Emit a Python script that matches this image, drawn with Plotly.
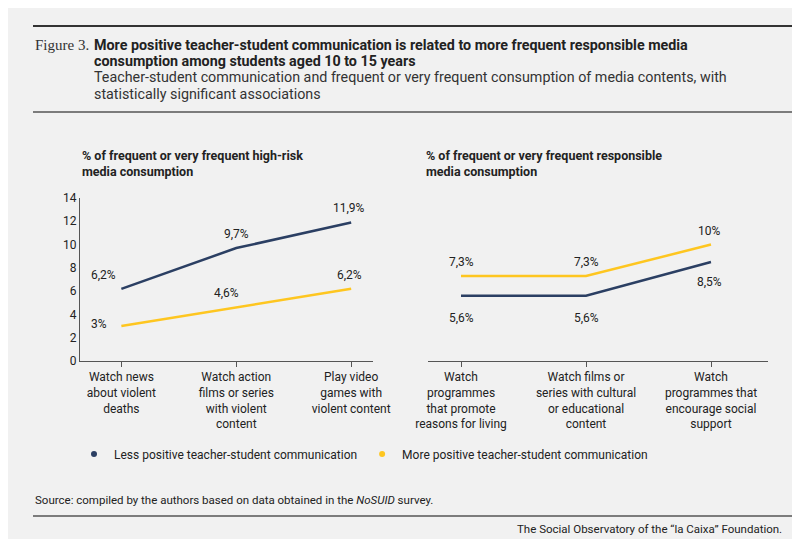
import plotly.graph_objects as go

cats_left = ["Watch news<br>about violent<br>deaths", "Watch action<br>films or series<br>with violent<br>content", "Play video<br>games with<br>violent content"]
cats_right = ["Watch<br>programmes<br>that promote<br>reasons for living", "Watch films or<br>series with cultural<br>or educational<br>content", "Watch<br>programmes that<br>encourage social<br>support"]
less_left = [6.2, 9.7, 11.9]
more_left = [3.0, 4.6, 6.2]
less_right = [5.6, 5.6, 8.5]
more_right = [7.3, 7.3, 10.0]
lbl_less_left = ["6,2%", "9,7%", "11,9%"]
lbl_more_left = ["3%", "4,6%", "6,2%"]
lbl_less_right = ["5,6%", "5,6%", "8,5%"]
lbl_more_right = ["7,3%", "7,3%", "10%"]
yticks = [0, 2, 4, 6, 8, 10, 12, 14]

BLUE = "#2b3f63"
YEL = "#fec620"
BG = "#f1f1f1"
F = "Roboto"

fig = go.Figure()
fig.add_trace(go.Scatter(x=[0, 1, 2], y=less_left, mode="lines", line=dict(color=BLUE, width=2.5),
                         showlegend=False, xaxis="x", yaxis="y"))
fig.add_trace(go.Scatter(x=[0, 1, 2], y=more_left, mode="lines", line=dict(color=YEL, width=2.5),
                         showlegend=False, xaxis="x", yaxis="y"))
fig.add_trace(go.Scatter(x=[0, 1, 2], y=less_right, mode="lines", line=dict(color=BLUE, width=2.5),
                         showlegend=False, xaxis="x2", yaxis="y2"))
fig.add_trace(go.Scatter(x=[0, 1, 2], y=more_right, mode="lines", line=dict(color=YEL, width=2.5),
                         showlegend=False, xaxis="x2", yaxis="y2"))
fig.add_trace(go.Scatter(x=[None], y=[None], mode="markers", marker=dict(color=BLUE, size=6),
                         name="Less positive teacher-student communication"))
fig.add_trace(go.Scatter(x=[None], y=[None], mode="markers", marker=dict(color=YEL, size=6),
                         name="More positive teacher-student communication"))

ann = []
def lab(xr, yr, x, y, t, xs, ys):
    ann.append(dict(xref=xr, yref=yr, x=x, y=y, text=t, showarrow=False, xshift=xs, yshift=ys,
                    font=dict(family=F, size=12, color="#222")))
lab("x", "y", 0, less_left[0], lbl_less_left[0], -18, 14)
lab("x", "y", 1, less_left[1], lbl_less_left[1], 0, 14)
lab("x", "y", 2, less_left[2], lbl_less_left[2], -2, 14)
lab("x", "y", 0, more_left[0], lbl_more_left[0], -22, 2)
lab("x", "y", 1, more_left[1], lbl_more_left[1], -10, 14)
lab("x", "y", 2, more_left[2], lbl_more_left[2], -2, 14)
for i in range(3):
    lab("x2", "y2", i, more_right[i], lbl_more_right[i], 0 if i < 2 else -2, 14)
    lab("x2", "y2", i, less_right[i], lbl_less_right[i], 0 if i < 2 else -2, -22 if i < 2 else -20)

def txt(x, y, t, size=12, color="#222", xa="left", ya="middle", fam=F):
    ann.append(dict(xref="paper", yref="paper", x=x / 800, y=1 - y / 539, text=t, showarrow=False,
                    xanchor=xa, yanchor=ya, align="left", font=dict(family=fam, size=size, color=color)))

txt(25, 37, "Figure 3.", 15, "#333", fam="Liberation Serif")
txt(84, 37, "<b>More positive teacher-student communication is related to more frequent responsible media</b>", 14.3, "#222")
txt(84, 53, "<b>consumption among students aged 10 to 15 years</b>", 14.3, "#222")
txt(84, 69, "Teacher-student communication and frequent or very frequent consumption of media contents, with", 14.3, "#333")
txt(84, 86, "statistically significant associations", 14.3, "#333")
txt(72, 155, "<b>% of frequent or very frequent high-risk<br>media consumption</b>", 12.5)
txt(416, 155, "<b>% of frequent or very frequent responsible<br>media consumption</b>", 12.5)
txt(25, 492, "Source: compiled by the authors based on data obtained in the <i>NoSUID</i> survey.", 11.5)
txt(776, 521, "The Social Observatory of the “la Caixa” Foundation.", 11.5, xa="right")

shapes = [
    dict(type="line", xref="paper", yref="paper", x0=25 / 800, x1=1, y0=1 - 18 / 539, y1=1 - 18 / 539, line=dict(color="#333", width=2)),
    dict(type="line", xref="paper", yref="paper", x0=25 / 800, x1=1, y0=1 - 104 / 539, y1=1 - 104 / 539, line=dict(color="#555", width=1.5)),
    dict(type="line", xref="paper", yref="paper", x0=25 / 800, x1=1, y0=1 - 508 / 539, y1=1 - 508 / 539, line=dict(color="#555", width=1.5)),
]

fig.update_layout(
    width=800, height=539, margin=dict(l=0, r=0, t=0, b=0, pad=0, autoexpand=False),
    paper_bgcolor=BG, plot_bgcolor=BG, annotations=ann, shapes=shapes,
    font=dict(family=F, size=12, color="#222"),
    legend=dict(orientation="h", x=66 / 800, y=1 - 446 / 539, yanchor="middle", font=dict(family=F, size=12),
                bgcolor="rgba(0,0,0,0)", itemwidth=30, tracegroupgap=0),
    xaxis=dict(domain=[72 / 800, 365 / 800], range=[-0.36, 2.19], tickvals=[0, 1, 2], ticktext=cats_left,
               showgrid=False, zeroline=False, showline=True, linecolor="#555", ticks="outside",
               ticklen=5, tickcolor="#555", tickfont=dict(size=12), automargin=False),
    yaxis=dict(domain=[1 - 353 / 539, 1 - 190 / 539], range=[0, 14], tickvals=yticks, showgrid=False,
               zeroline=False, showline=True, linecolor="#555", ticks="", tickfont=dict(size=12), automargin=False),
    xaxis2=dict(domain=[420 / 800, 760 / 800], range=[-0.264, 2.456], tickvals=[0, 1, 2], ticktext=cats_right,
                showgrid=False, zeroline=False, showline=True, linecolor="#555", ticks="outside",
                ticklen=5, tickcolor="#555", tickfont=dict(size=12), anchor="y2", automargin=False),
    yaxis2=dict(domain=[1 - 353 / 539, 1 - 190 / 539], range=[0, 14], visible=False, anchor="x2"),
)
fig.write_html("out.html")
